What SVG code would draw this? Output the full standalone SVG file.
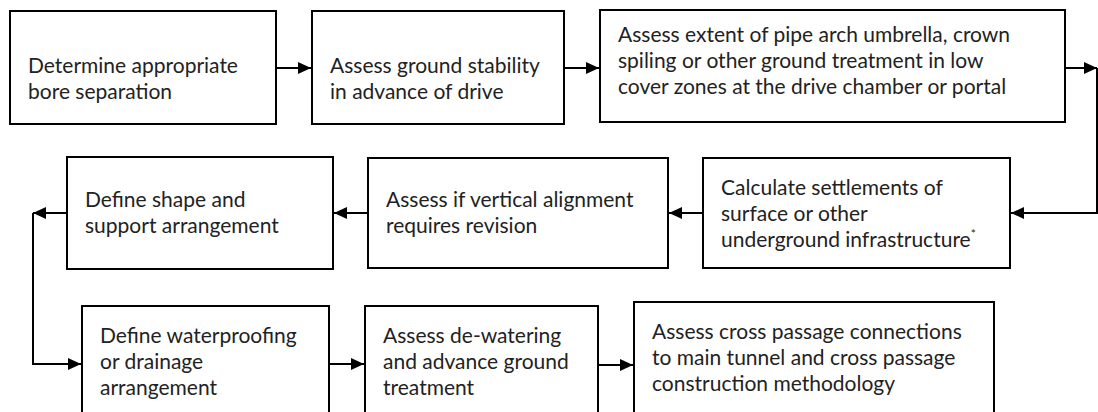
<svg xmlns="http://www.w3.org/2000/svg" width="1098" height="412" viewBox="0 0 1098 412">
  <defs>
    <marker id="arrow" markerUnits="userSpaceOnUse" markerWidth="14" markerHeight="12" refX="13" refY="6" orient="auto">
      <path d="M0,0 L13,6 L0,12 Z" fill="#000"/>
    </marker>
    <style>
      .box { fill: #fff; stroke: #000; stroke-width: 2; }
      .lbl { font-family: Lato, "Liberation Sans", sans-serif; font-size: 21px; fill: #222; }
      .sup { font-size: 12px; }
      .link { fill: none; stroke: #000; stroke-width: 2; }
      .head { marker-end: url(#arrow); }
    </style>
  </defs>

  <rect width="1098" height="412" fill="#fff"/>

  <!-- connectors -->
  <g id="connectors">
    <path class="link head" d="M276,68 H311"/>
    <path class="link head" d="M564,68 H599"/>
    <path class="link head" d="M1065,68 H1097"/>
    <path class="link head" d="M1097,68 V213 H1011"/>
    <path class="link head" d="M703,213 H669"/>
    <path class="link head" d="M368,213 H334"/>
    <path class="link head" d="M67,213 H33"/>
    <path class="link head" d="M33,213 V364 H81"/>
    <path class="link head" d="M329,364 H364"/>
    <path class="link head" d="M598,365 H633"/>
  </g>

  <!-- row 1 -->
  <g id="node-bore-separation">
    <rect class="box" x="10" y="11" width="266" height="113"/>
    <text class="lbl"><tspan x="28" y="73">Determine appropriate</tspan><tspan x="28" y="99">bore separation</tspan></text>
  </g>
  <g id="node-ground-stability">
    <rect class="box" x="312" y="11" width="252" height="113"/>
    <text class="lbl"><tspan x="330" y="73">Assess ground stability</tspan><tspan x="330" y="99">in advance of drive</tspan></text>
  </g>
  <g id="node-pipe-arch">
    <rect class="box" x="600" y="10" width="465" height="112"/>
    <text class="lbl"><tspan x="618" y="42">Assess extent of pipe arch umbrella, crown</tspan><tspan x="618" y="68">spiling or other ground treatment in low</tspan><tspan x="618" y="94">cover zones at the drive chamber or portal</tspan></text>
  </g>

  <!-- row 2 -->
  <g id="node-settlements">
    <rect class="box" x="703" y="158" width="307" height="110"/>
    <text class="lbl"><tspan x="721" y="195">Calculate settlements of</tspan><tspan x="721" y="221">surface or other</tspan><tspan x="721" y="247">underground infrastructure<tspan class="sup" dy="-9">*</tspan></tspan></text>
  </g>
  <g id="node-vertical-alignment">
    <rect class="box" x="368" y="158" width="300" height="110"/>
    <text class="lbl"><tspan x="386" y="207">Assess if vertical alignment</tspan><tspan x="386" y="233">requires revision</tspan></text>
  </g>
  <g id="node-shape-support">
    <rect class="box" x="67" y="157" width="266" height="112"/>
    <text class="lbl"><tspan x="85" y="207">Define shape and</tspan><tspan x="85" y="233">support arrangement</tspan></text>
  </g>

  <!-- row 3 -->
  <g id="node-waterproofing">
    <rect class="box" x="82" y="306" width="247" height="120"/>
    <text class="lbl"><tspan x="100" y="343">Define waterproofing</tspan><tspan x="100" y="369">or drainage</tspan><tspan x="100" y="395">arrangement</tspan></text>
  </g>
  <g id="node-dewatering">
    <rect class="box" x="365" y="306" width="233" height="120"/>
    <text class="lbl"><tspan x="383" y="343">Assess de-watering</tspan><tspan x="383" y="369">and advance ground</tspan><tspan x="383" y="395">treatment</tspan></text>
  </g>
  <g id="node-cross-passage">
    <rect class="box" x="634" y="302" width="360" height="124"/>
    <text class="lbl"><tspan x="652" y="339">Assess cross passage connections</tspan><tspan x="652" y="365">to main tunnel and cross passage</tspan><tspan x="652" y="391">construction methodology</tspan></text>
  </g>
</svg>
